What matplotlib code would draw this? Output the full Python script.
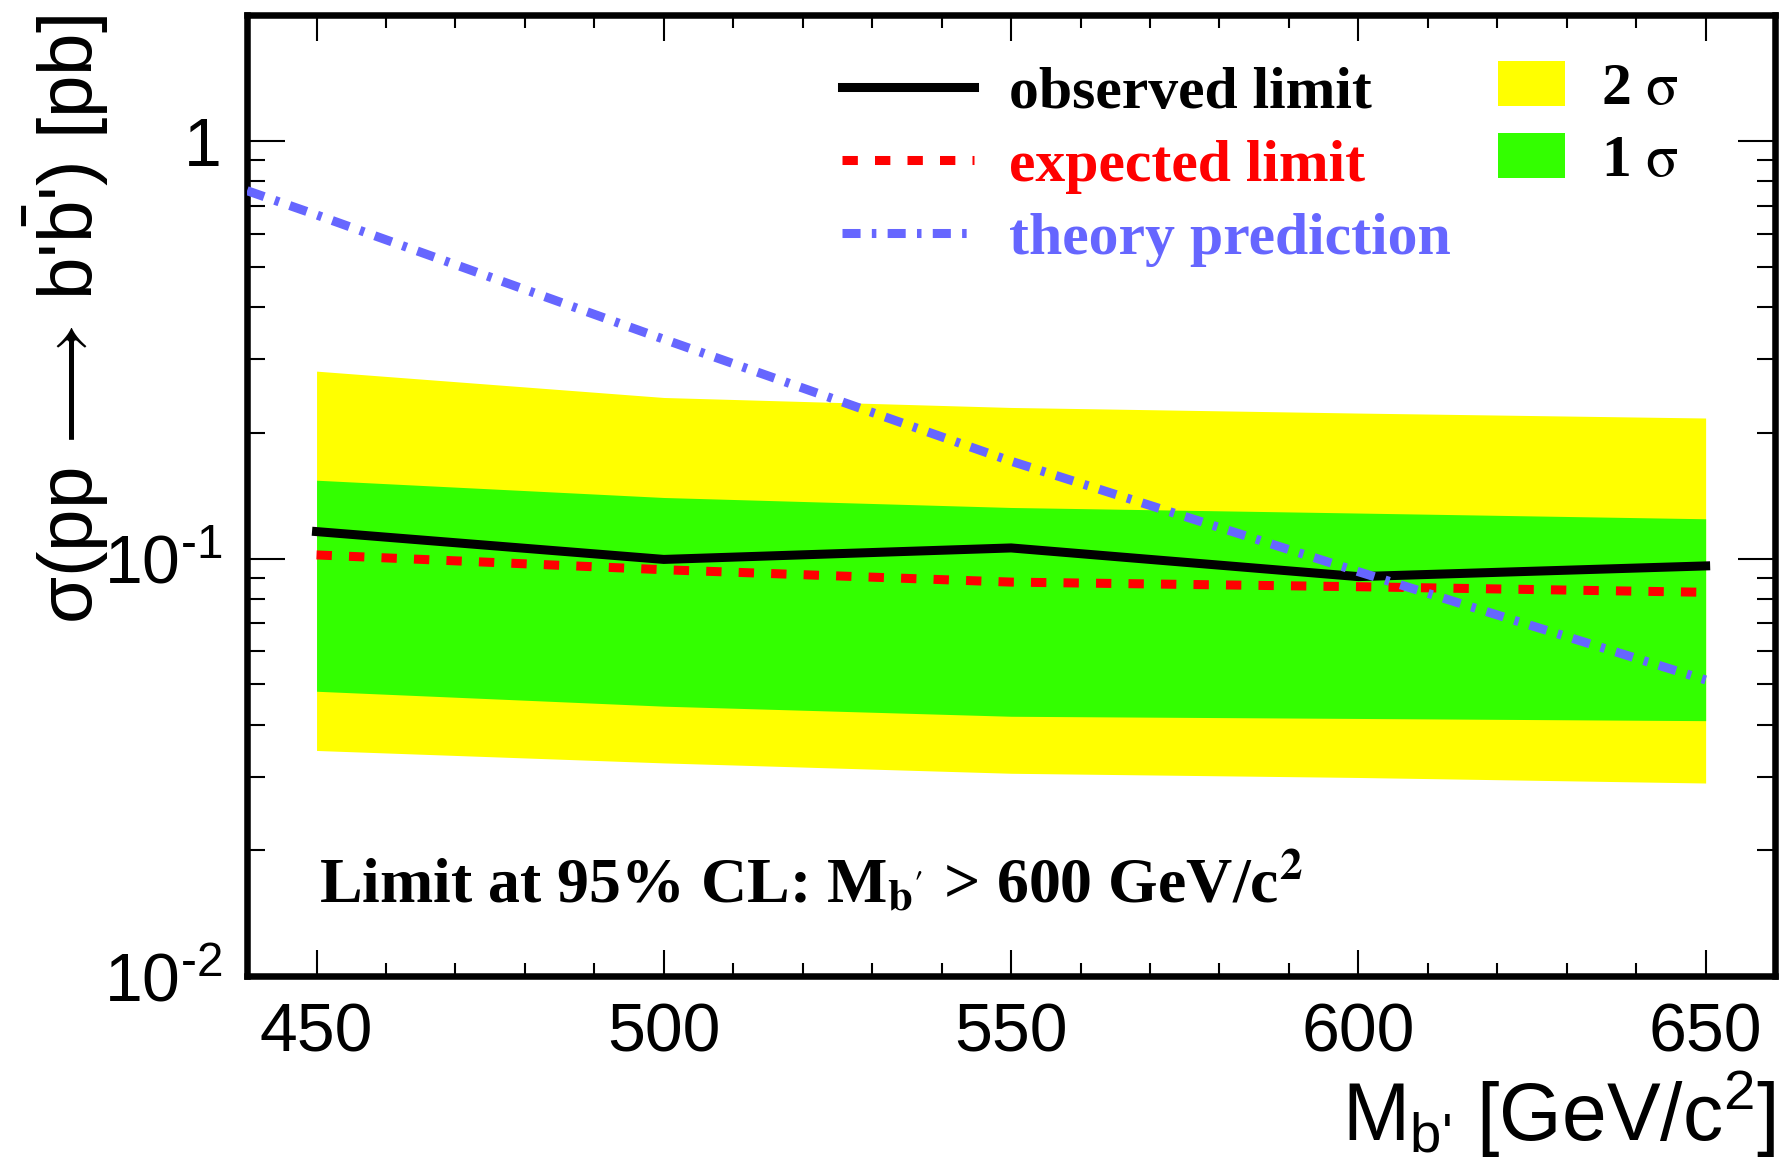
import numpy as np
import matplotlib
matplotlib.use("Agg")
import matplotlib.pyplot as plt
from matplotlib.lines import Line2D
from matplotlib.patches import Patch
from matplotlib.ticker import FixedLocator, FixedFormatter, MultipleLocator, LogLocator, NullFormatter

plt.rcParams['font.family'] = ['Liberation Sans', 'DejaVu Sans']
plt.rcParams['mathtext.fontset'] = 'custom'
plt.rcParams['mathtext.rm'] = 'Liberation Sans'
plt.rcParams['mathtext.it'] = 'Liberation Sans:italic'
plt.rcParams['mathtext.bf'] = 'Liberation Sans:bold'
plt.rcParams['mathtext.fallback'] = 'stixsans'

# b' mass points [GeV/c^2]
mass = [450, 500, 550, 600, 650]
observed = [0.116, 0.0995, 0.106, 0.0905, 0.096]
expected = [0.102, 0.094, 0.0878, 0.0856, 0.083]
band2_hi = [0.281, 0.243, 0.230, 0.223, 0.217]
band1_hi = [0.154, 0.140, 0.1325, 0.1285, 0.1245]
band1_lo = [0.0481, 0.0443, 0.0419, 0.0414, 0.0409]
band2_lo = [0.0347, 0.0324, 0.0306, 0.0299, 0.0290]

theory_mass = [440, 450, 500, 550, 600, 650]
theory_xsec = [0.76, 0.665, 0.335, 0.171, 0.093, 0.0512]

yellow = '#ffff00'
green = '#33ff00'
red = '#ff0000'
blue = '#6666ff'
theory_dash = (2.0, 1.25, 0.5, 1.25)

fig = plt.figure(figsize=(17.84, 11.69), dpi=100)
ax = fig.add_axes([0.1385, 0.165, 0.8565, 0.822])

ax.fill_between(mass, band2_lo, band2_hi, color=yellow, lw=0, zorder=1)
ax.fill_between(mass, band1_lo, band1_hi, color=green, lw=0, zorder=2)
ax.plot(mass, observed, color='black', lw=6.5, solid_joinstyle='miter', zorder=4)
ax.plot(mass, expected, color=red, lw=6.5, dashes=(1.7, 1.9), zorder=5)
ax.plot(theory_mass, theory_xsec, color=blue, lw=6.5, dashes=theory_dash, zorder=6)

ax.set_yscale('log')
ax.set_xlim(440, 660)
ax.set_ylim(0.01, 2.0)

# ROOT-like ticks
ax.xaxis.set_major_locator(MultipleLocator(50))
ax.xaxis.set_minor_locator(MultipleLocator(10))
ax.yaxis.set_major_locator(FixedLocator([0.01, 0.1, 1]))
ax.yaxis.set_major_formatter(FixedFormatter([r'$10^{\text{-}2}$', r'$10^{\text{-}1}$', '1']))
ax.yaxis.set_minor_locator(LogLocator(base=10, subs=np.arange(2, 10), numticks=20))
ax.yaxis.set_minor_formatter(NullFormatter())
ax.tick_params(which='both', direction='in', top=True, right=True, width=1.5)
ax.tick_params(axis='x', which='major', length=19, pad=18, labelsize=49)
ax.tick_params(axis='x', which='minor', length=9.5)
ax.tick_params(axis='y', which='major', length=27, pad=18, labelsize=49)
ax.tick_params(axis='y', which='minor', length=13)
for s in ax.spines.values():
    s.set_linewidth(4.7)

ax.set_xlabel(r"M$_{\mathrm{b}\text{'}}$ [GeV/c$^2$]", fontsize=58, loc='right', labelpad=2)
ax.set_ylabel(r"$\mathrm{\sigma}$(pp$\,\longrightarrow\,$b'$\mathrm{\bar{b}}$') [pb]",
              fontsize=55, loc='top')
ax.yaxis.set_label_coords(-0.089, 1.0)

ax.text(0.047, 0.077, r"Limit at 95% CL: M$_{\mathbf{b'}}$ > 600 GeV/c$^{\mathbf{2}}$",
        transform=ax.transAxes, fontsize=46, fontweight='bold',
        family='Liberation Serif', math_fontfamily='stix', ha='left', va='baseline')

leg_font = {'family': 'Liberation Serif', 'weight': 'bold', 'size': 43}

line_handles = [
    Line2D([], [], color='black', lw=6.5),
    Line2D([], [], color=red, lw=6.5, dashes=(1.7, 1.9)),
    Line2D([], [], color=blue, lw=6.5, dashes=theory_dash),
]
line_labels = ['observed limit', 'expected limit', 'theory prediction']
leg1 = ax.legend(line_handles, line_labels, loc='upper left', bbox_to_anchor=(0.366, 0.984),
                 frameon=False, handlelength=2.2, handletextpad=0.6, labelspacing=0.3,
                 borderaxespad=0.2, prop=leg_font)
for txt, c in zip(leg1.get_texts(), ['black', red, blue]):
    txt.set_color(c)
ax.add_artist(leg1)

band_handles = [Patch(color=yellow, lw=0), Patch(color=green, lw=0)]
leg2 = ax.legend(band_handles, [r'2 $\mathrm{\sigma}$', r'1 $\mathrm{\sigma}$'], loc='upper left',
                 bbox_to_anchor=(0.795, 0.99), frameon=False, handlelength=1.13,
                 handleheight=0.78, handletextpad=0.6, labelspacing=0.27, borderaxespad=0.2,
                 prop=leg_font)
for txt in leg2.get_texts():
    txt.set_math_fontfamily('stix')

fig.savefig('out.png', dpi=100)
